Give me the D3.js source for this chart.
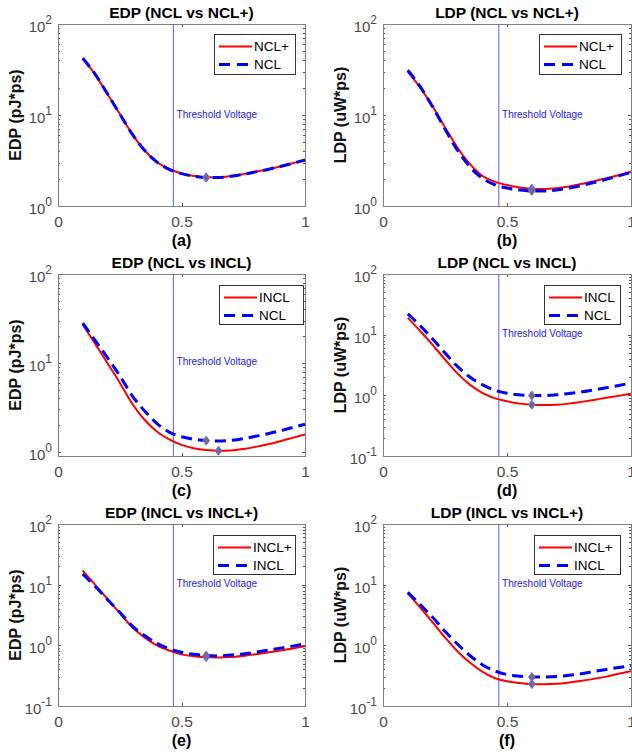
<!DOCTYPE html>
<html>
<head>
<meta charset="utf-8">
<script src="https://cdn.jsdelivr.net/npm/d3@7"></script>
<style>
  body { margin: 0; background: #fff; }
  svg text { font-family: 'Liberation Sans', Arial, Helvetica, sans-serif; }
  .box, .tick line { shape-rendering: crispEdges; }
</style>
</head>
<body>
<svg id="fig" width="632" height="756"></svg>
<script>
// supply voltage (V), same sweep for every curve
var volts = [0.1, 0.15, 0.2, 0.25, 0.3, 0.35, 0.4, 0.45, 0.5, 0.55, 0.6, 0.65, 0.7, 0.75, 0.8, 0.85, 0.9, 0.95, 1.0];

// (a) EDP NCL vs NCL+
var edpNclPlusA = [42, 28, 17, 10.3, 6.2, 4.1, 3.05, 2.55, 2.28, 2.14, 2.07, 2.07, 2.13, 2.24, 2.38, 2.53, 2.72, 2.95, 3.2];
var edpNclA     = [42, 28.2, 17.1, 10.3, 6.2, 4.1, 3.05, 2.53, 2.27, 2.13, 2.06, 2.06, 2.12, 2.23, 2.37, 2.52, 2.72, 2.95, 3.2];
// (b) LDP NCL vs NCL+
var ldpNclPlusB = [30, 20, 12.5, 7.3, 4.4, 2.9, 2.15, 1.85, 1.7, 1.6, 1.55, 1.54, 1.57, 1.64, 1.75, 1.87, 2.02, 2.18, 2.38];
var ldpNclB     = [31, 20.5, 12.3, 7.0, 4.1, 2.7, 2.02, 1.72, 1.58, 1.5, 1.46, 1.46, 1.5, 1.57, 1.68, 1.81, 1.96, 2.14, 2.35];
// (c) EDP NCL vs INCL
var edpInclC = [27, 16.5, 10, 6.0, 3.5, 2.3, 1.7, 1.38, 1.2, 1.1, 1.05, 1.03, 1.04, 1.08, 1.14, 1.22, 1.32, 1.44, 1.57];
var edpNclC  = [28, 18, 11.5, 7.2, 4.3, 2.9, 2.1, 1.67, 1.48, 1.39, 1.34, 1.33, 1.35, 1.41, 1.5, 1.6, 1.73, 1.88, 2.05];
// (d) LDP NCL vs INCL
var ldpInclD = [19, 11.5, 6.8, 3.9, 2.3, 1.5, 1.1, 0.9, 0.8, 0.73, 0.7, 0.69, 0.7, 0.73, 0.78, 0.84, 0.91, 0.98, 1.06];
var ldpNclD  = [22, 14, 8.5, 5.0, 3.0, 2.0, 1.5, 1.22, 1.08, 1.02, 0.99, 0.99, 1.02, 1.07, 1.14, 1.23, 1.33, 1.45, 1.6];
// (e) EDP INCL vs INCL+
var edpInclPlusE = [17, 10, 5.8, 3.4, 2.0, 1.35, 1.0, 0.82, 0.71, 0.66, 0.64, 0.63, 0.64, 0.67, 0.71, 0.76, 0.82, 0.89, 0.97];
var edpInclE     = [15, 9.4, 5.7, 3.5, 2.1, 1.45, 1.08, 0.88, 0.77, 0.71, 0.68, 0.67, 0.69, 0.72, 0.77, 0.83, 0.9, 0.97, 1.06];
// (f) LDP INCL vs INCL+
var ldpInclPlusF = [7.2, 4.2, 2.4, 1.35, 0.8, 0.52, 0.37, 0.29, 0.255, 0.24, 0.23, 0.228, 0.232, 0.244, 0.26, 0.28, 0.305, 0.34, 0.375];
var ldpInclF     = [7.5, 4.7, 2.9, 1.7, 1.05, 0.68, 0.48, 0.38, 0.33, 0.31, 0.3, 0.3, 0.305, 0.32, 0.34, 0.37, 0.4, 0.43, 0.46];

// optimum points (diamonds): [solid, dashed]
var optA = [[0.6, 2.06], [0.6, 2.05]];
var optB = [[0.6, 1.55], [0.6, 1.46]];
var optC = [[0.65, 1.03], [0.6, 1.34]];
var optD = [[0.6, 0.7], [0.6, 0.99]];
var optE = [[0.6, 0.64], [0.6, 0.68]];
var optF = [[0.6, 0.23], [0.6, 0.3]];

var thresholdV = 0.467;
var xTicks = [0, 0.5, 1];

var panels = [
  {tag: "(a)", title: "EDP (NCL vs NCL+)", ylab: "EDP (pJ*ps)", dom: [1, 100], solid: edpNclPlusA, dashed: edpNclA, names: ["NCL+", "NCL"], opt: optA, leg: [156, 10, 81, 40]},
  {tag: "(b)", title: "LDP (NCL vs NCL+)", ylab: "LDP (uW*ps)", dom: [1, 100], solid: ldpNclPlusB, dashed: ldpNclB, names: ["NCL+", "NCL"], opt: optB, leg: [156, 10, 82, 40]},
  {tag: "(c)", title: "EDP (NCL vs INCL)", ylab: "EDP (pJ*ps)", dom: [0.9, 100], solid: edpInclC, dashed: edpNclC, names: ["INCL", "NCL"], opt: optC, leg: [161, 11, 84, 39]},
  {tag: "(d)", title: "LDP (NCL vs INCL)", ylab: "LDP (uW*ps)", dom: [0.1, 100], solid: ldpInclD, dashed: ldpNclD, names: ["INCL", "NCL"], opt: optD, leg: [161, 11, 76, 39]},
  {tag: "(e)", title: "EDP (INCL vs INCL+)", ylab: "EDP (pJ*ps)", dom: [0.1, 100], solid: edpInclPlusE, dashed: edpInclE, names: ["INCL+", "INCL"], opt: optE, leg: [155, 11, 82, 39]},
  {tag: "(f)", title: "LDP (INCL vs INCL+)", ylab: "LDP (uW*ps)", dom: [0.1, 100], solid: ldpInclPlusF, dashed: ldpInclF, names: ["INCL+", "INCL"], opt: optF, leg: [151, 11, 86, 39]}
];

var svg = d3.select("#fig");
var W = 247, H = 182;
var colX = [58, 383], rowY = [24, 274, 524];
var axisGray = "#808080", labelGray = "#4a4a4a";
var diamond = "M0,-4.5L3.3,0L0,4.5L-3.3,0Z";

panels.forEach(function(p, i) {
  var left = colX[i % 2], top = rowY[Math.floor(i / 2)];
  var w = (i % 2) ? W + 1 : W;
  var g = svg.append("g").attr("transform", "translate(" + left + "," + top + ")");

  var x = d3.scaleLinear().domain([0, 1]).range([0, w]);
  var y = d3.scaleLog().domain(p.dom).range([H, 0]);

  var lo = Math.ceil(Math.log10(p.dom[0])), hi = Math.floor(Math.log10(p.dom[1]));
  var decades = d3.range(lo, hi + 1).map(function(e) { return Math.pow(10, e); });
  var minors = [];
  d3.range(lo - 1, hi).forEach(function(e) {
    d3.range(2, 10).forEach(function(k) {
      var v = k * Math.pow(10, e);
      if (v >= p.dom[0] && v <= p.dom[1]) minors.push(v);
    });
  });

  // ticks (inward, on all four sides)
  function tickAxis(gen, vals, size, tr) {
    var a = g.append("g").attr("transform", tr || null)
      .call(gen.tickValues(vals).tickSizeInner(-size).tickSizeOuter(0).tickFormat(""));
    a.select(".domain").remove();
    a.selectAll(".tick line").attr("stroke", "#555");
    return a;
  }
  tickAxis(d3.axisLeft(y), decades, 3);
  tickAxis(d3.axisLeft(y), minors, 2);
  tickAxis(d3.axisRight(y), decades, 3, "translate(" + w + ",0)");
  tickAxis(d3.axisRight(y), minors, 2, "translate(" + w + ",0)");
  tickAxis(d3.axisBottom(x), xTicks, 3, "translate(0," + H + ")");
  tickAxis(d3.axisTop(x), xTicks, 3);

  // x tick labels
  var xa = g.append("g").attr("transform", "translate(0," + H + ")")
    .call(d3.axisBottom(x).tickValues(xTicks).tickSize(0).tickPadding(10).tickFormat(d3.format("")));
  xa.select(".domain").remove();
  xa.selectAll("text").attr("font-size", 15.5).attr("fill", labelGray)
    .style("font-family", "'Liberation Sans', Arial, sans-serif");

  // y tick labels 10^n
  decades.forEach(function(d) {
    var t = g.append("text").attr("x", -6).attr("y", y(d) + 8)
      .attr("text-anchor", "end").attr("font-size", 15).attr("fill", labelGray).text("10");
    t.append("tspan").attr("dy", -8).attr("font-size", 12).text(Math.round(Math.log10(d)));
  });

  // box
  g.append("rect").attr("class", "box").attr("x", 0.5).attr("y", 0.5)
    .attr("width", w).attr("height", H).attr("fill", "none").attr("stroke", axisGray);

  // threshold voltage marker
  g.append("line").attr("x1", x(thresholdV)).attr("x2", x(thresholdV))
    .attr("y1", 0).attr("y2", H).attr("stroke", "#5c5cff").attr("stroke-width", 1);
  g.append("text").attr("x", x(0.48)).attr("y", y(10) - 1)
    .attr("dominant-baseline", "central").attr("font-size", 10).attr("fill", "#1a1aff")
    .text("Threshold Voltage");

  // curves
  var line = d3.line().x(function(d) { return x(d[0]); }).y(function(d) { return y(d[1]); })
    .curve(d3.curveMonotoneX);
  g.append("path").datum(d3.zip(volts, p.solid)).attr("d", line)
    .attr("fill", "none").attr("stroke", "#ff0000").attr("stroke-width", 2);
  g.append("path").datum(d3.zip(volts, p.dashed)).attr("d", line)
    .attr("fill", "none").attr("stroke", "#0000ff").attr("stroke-width", 3)
    .attr("stroke-dasharray", "11,6");

  // optimum diamonds
  g.selectAll(".opt").data(p.opt).enter().append("path")
    .attr("d", diamond)
    .attr("transform", function(d) { return "translate(" + x(d[0]) + "," + y(d[1]) + ")"; })
    .attr("fill", "#707070").attr("stroke", "#6a6aff").attr("stroke-width", 1);

  // legend
  var L = p.leg;
  var lg = g.append("g").attr("transform", "translate(" + L[0] + "," + L[1] + ")");
  lg.append("rect").attr("class", "box").attr("x", 0.5).attr("y", 0.5)
    .attr("width", L[2]).attr("height", L[3]).attr("fill", "#fff").attr("stroke", "#333");
  [{c: "#ff0000", sw: 2, dash: null}, {c: "#0000ff", sw: 3, dash: "11,7"}].forEach(function(s, k) {
    var ry = k ? 30.5 : 12.5;
    lg.append("line").attr("x1", 5).attr("x2", 38).attr("y1", ry).attr("y2", ry)
      .attr("stroke", s.c).attr("stroke-width", s.sw).attr("stroke-dasharray", s.dash);
    lg.append("text").attr("x", 40).attr("y", ry).attr("dominant-baseline", "central")
      .attr("font-size", 13.5).attr("fill", "#000").text(p.names[k]);
  });

  // titles and labels
  g.append("text").attr("x", w / 2).attr("y", -6).attr("text-anchor", "middle")
    .attr("font-size", 15.5).attr("font-weight", "bold").text(p.title);
  g.append("text").attr("x", w / 2).attr("y", H + 40).attr("text-anchor", "middle")
    .attr("font-size", 16).attr("font-weight", "bold").text(p.tag);
  g.append("text").attr("transform", "translate(-37," + (H / 2) + ") rotate(-90)")
    .attr("text-anchor", "middle").attr("font-size", 16).attr("font-weight", "bold")
    .attr("fill", "#111").text(p.ylab);
});
</script>
</body>
</html>
